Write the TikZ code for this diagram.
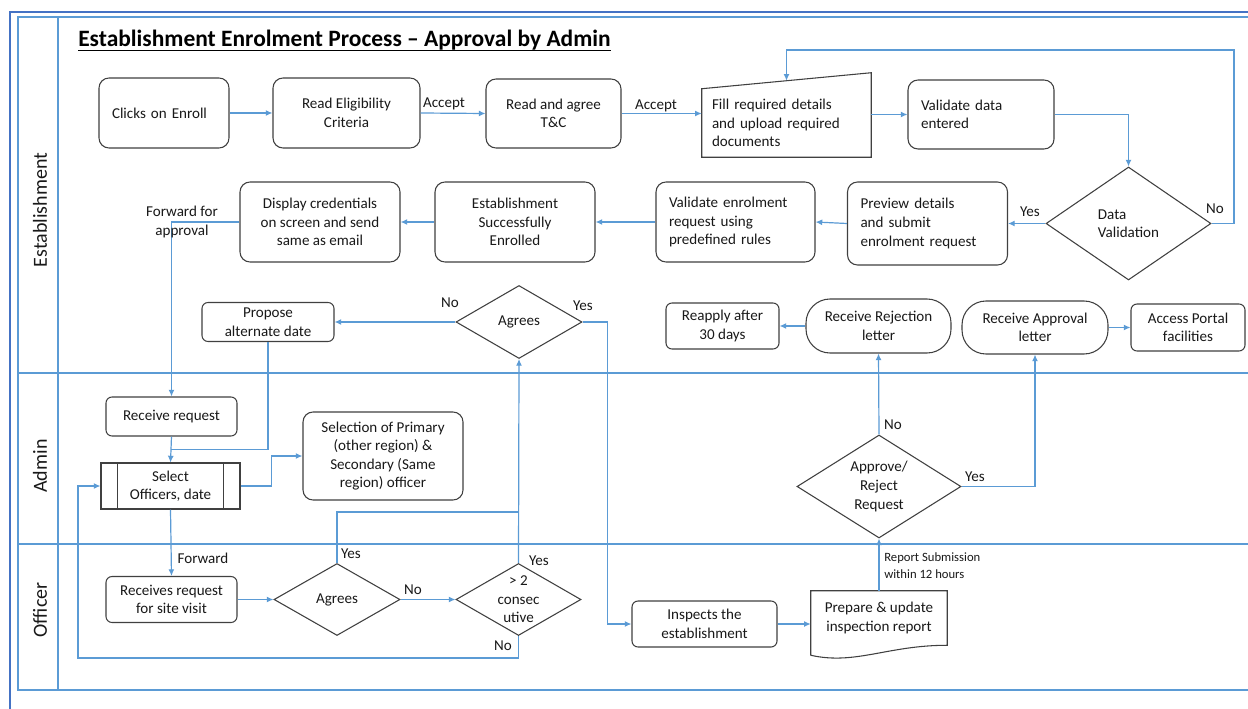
\documentclass[tikz,border=0pt]{standalone}
\usepackage{fontspec}
\setmainfont{Carlito}
\usetikzlibrary{shapes.geometric,arrows.meta,calc}
\definecolor{flow}{RGB}{91,155,213}
\definecolor{framec}{RGB}{68,114,196}
\definecolor{edge}{RGB}{64,64,64}
\definecolor{ink}{RGB}{25,25,25}
\tikzset{
  txt/.style={font=\fontsize{11.3}{13.9}\selectfont, text=ink},
  sz/.style 2 args={minimum width={#1*0.75pt}, minimum height={#2*0.75pt}},
  stepc/.style 2 args={txt, draw=edge, line width=0.8pt, rounded corners=7.5pt, align=center, inner sep=0pt, sz={#1}{#2}},
  stepl/.style 2 args={txt, draw=edge, line width=0.8pt, rounded corners=7.5pt, align=left, inner ysep=0pt, inner xsep=9.75pt, text width=#1, minimum height=#2},
  small/.style={rounded corners=4.5pt},
  pill/.style={rounded corners=18pt},
  predef/.style 2 args={txt, draw=edge, line width=0.8pt, align=center, inner sep=0pt, sz={#1}{#2}},
  dec/.style 2 args={diamond, draw=edge, line width=0.8pt, inner sep=0pt, sz={#1}{#2}},
  conn/.style={draw=flow, line width=0.9pt, -{Latex[length=5pt,width=4.5pt]}},
  link/.style={draw=flow, line width=0.9pt},
  lbl/.style={txt, inner sep=0pt},
  lane/.style={draw=flow, line width=1pt},
  lanetitle/.style={font=\fontsize{15}{18}\selectfont, text=ink, rotate=90, inner sep=0pt},
}
\begin{document}
\begin{tikzpicture}[x=0.75pt,y=-0.75pt]
\useasboundingbox (0,0) rectangle (1248,709);
\fill[white] (0,0) rectangle (1248,709);

% swimlane frame
\draw[framec, line width=2pt] (10,709) -- (10,12) -- (1248,12);
\draw[lane] (1248,17) -- (18,17) -- (18,690) -- (1248,690);
\draw[lane] (58,17) -- (58,690);
\draw[lane] (18,373) -- (1248,373);
\draw[lane] (18,544) -- (1248,544);

% lane titles
\node[lanetitle] (lnest) at (40,210) {Establishment};
\node[lanetitle] (lnadm) at (40,466) {Admin};
\node[lanetitle] (lnoff) at (40,610) {Officer};

% heading
\node[anchor=base west, inner sep=0pt, text=black, font=\bfseries\fontsize{17.6}{20}\selectfont] (ttl) at (78,47) {Establishment Enrolment Process – Approval by Admin};
\draw[black, line width=1.4pt] ($(ttl.base west)+(0,3.5)$) -- ($(ttl.base east)+(0,3.5)$);

% ---- Establishment lane ----
\node[stepl={78pt}{52.5pt}] (clk) at (164,113) {Clicks on Enroll};
\node[stepc={147}{70}] (elig) at (346.5,113) {Read Eligibility\\Criteria};
\node[stepc={135}{69}] (tc) at (553.5,113.5) {Read and agree\\T\&C};
\node[txt, align=left, text width=111.75pt, inner xsep=7.5pt, inner ysep=0pt, minimum height=51pt] (upl) at (786.5,123) {Fill required details\\and upload required\\documents};
\draw[draw=edge, line width=0.8pt] (upl.south west) -- (upl.north west) -- ($(upl.north east)+(0,-16)$) -- (upl.south east) -- cycle;
\node[stepl={90pt}{51.75pt}] (vd) at (981,114.5) {Validate data\\entered};
\node[dec={165}{113}] (dv) at (1128.5,223.5) {};
\node[lbl, align=left] (dvt) at (dv) {Data\\Validation};
\node[stepl={100.5pt}{62.25pt}] (prev) at (927.5,223.5) {Preview details\\and submit\\enrolment request};
\node[stepl={99.75pt}{60pt}] (venr) at (735.5,222) {Validate enrolment\\request using\\predefined rules};
\node[stepc={160}{80}] (succ) at (515,222) {Establishment\\Successfully\\Enrolled};
\node[stepc={160}{80}] (disp) at (320,222) {Display credentials\\on screen and send\\same as email};
\node[stepc={132}{39}, small] (prop) at (268,322) {Propose\\alternate date};
\node[dec={126}{73}] (ag1) at (519,322) {};
\node[lbl] (ag1t) at (ag1) {Agrees};
\node[stepc={113}{46}, small] (reap) at (722.5,326) {Reapply after\\30 days};
\node[stepc={145}{54}, pill] (rej) at (878.5,326) {Receive Rejection\\letter};
\node[stepc={146}{53}, pill] (appr) at (1035,327.5) {Receive Approval\\letter};
\node[stepc={114}{47}, small] (acc) at (1188,327.5) {Access Portal\\facilities};

% ---- Admin lane ----
\node[stepc={131}{39}, small] (rcv) at (171.5,416.5) {Receive request};
\node[predef={139}{46}] (sel) at (170.5,486) {Select\\Officers, date};
\draw[draw=edge, line width=0.8pt] ($(sel.north west)+(17,0)$) -- ($(sel.south west)+(17,0)$)
      ($(sel.north east)+(-17,0)$) -- ($(sel.south east)+(-17,0)$);
\node[stepc={160}{88}] (selx) at (383,456) {Selection of Primary\\(other region) \&\\Secondary (Same\\region) officer};
\node[dec={164}{103}] (apr) at (879,486.5) {};
\node[lbl, align=center] (aprt) at (apr) {Approve/\\Reject\\Request};

% ---- Officer lane ----
\node[stepc={131}{46}, small] (rsv) at (171.5,599.5) {Receives request\\for site visit};
\node[dec={126}{72}] (ag2) at (337,599.5) {};
\node[lbl] (ag2t) at (ag2) {Agrees};
\node[dec={125}{72}] (gt) at (518.5,599.5) {};
\node[lbl, align=center] (gtt) at (gt) {> 2\\consec\\utive};
\node[stepc={145}{46}, small] (insp) at (704.5,624) {Inspects the\\establishment};
\node[txt, align=center, inner sep=0pt, sz={136}{54}] (prep) at (879,618) {Prepare \& update\\inspection report};
\draw[draw=edge, line width=0.8pt] ($(prep.south west)+(0,10)$) -- (prep.north west) -- (prep.north east) -- (prep.south east)
      .. controls +(-60,0) and +(45,10) .. ($(prep.south west)+(0,10)$);

% helper points for merged lines
\coordinate (loop) at (1234,50);
\coordinate (uplin) at ($(upl.north)+(0,-8)$);
\coordinate (mrg) at ($(rcv.south)!0.5!(sel.north)$);
\coordinate (ymrg) at (518.5,512);
\coordinate (back) at (78,658);

% ---- connectors ----
\draw[conn] (clk.east) -- (elig.west);
\draw[conn] (elig.east) -- (tc.west);
\draw[conn] (tc.east) -- (tc.east -| upl.west);
\draw[conn] (vd.west -| upl.east) -- (vd.west);
\draw[conn] (vd.east) -| (dv.north);
\draw[conn] (dv.east) -| (loop) -| (uplin);
\draw[conn] (dv.west) -- (prev.east);
\draw[conn] (prev.west) -- (venr.east);
\draw[conn] (venr.west) -- (succ.east);
\draw[conn] (succ.west) -- (disp.east);
\draw[conn] (disp.west) -| (rcv.north);
\draw[conn] (rcv.south) -- (sel.north);
\draw[link] (prop.south) |- (mrg);
\draw[conn] (sel.east) -- ++(31,0) |- (selx.west);
\draw[conn] (sel.south) -- (rsv.north);
\draw[conn] (rsv.east) -- (ag2.west);
\draw[conn] (ag2.east) -- (gt.west);
\draw[link] (ag2.north) |- (ymrg);
\draw[conn] (gt.north) -- (ag1.south);
\draw[conn] (gt.south) |- (back) |- (sel.west);
\draw[conn] (ag1.west) -- (prop.east);
\draw[conn] (ag1.east) -- ++(25,0) |- (insp.west);
\draw[conn] (insp.east) -- (insp.east -| prep.west);
\draw[conn] (prep.north) -- (apr.south);
\draw[conn] (apr.north) -- (rej.south);
\draw[conn] (apr.east) -| (appr.south);
\draw[conn] (rej.west) -- (reap.east);
\draw[conn] (appr.east) -- (acc.west);

% ---- connector labels ----
\node[lbl] (l1) at (444,104) {Accept};
\node[lbl] (l2) at (656,106) {Accept};
\node[lbl] (l3) at (1215,209) {No};
\node[lbl] (l4) at (1030,212) {Yes};
\node[lbl, align=center] (l5) at (182,222) {Forward for\\approval};
\node[lbl] (l6) at (450,303) {No};
\node[lbl] (l7) at (583,306) {Yes};
\node[lbl] (l8) at (203,558) {Forward};
\node[lbl] (l9) at (351,554) {Yes};
\node[lbl] (l10) at (413,590) {No};
\node[lbl] (l11) at (539,561) {Yes};
\node[lbl] (l12) at (503,646) {No};
\node[lbl] (l13) at (893,425) {No};
\node[lbl] (l14) at (975,477) {Yes};
\node[lbl, anchor=west, align=left, font=\fontsize{9.5}{12.75}\selectfont] (l15) at (884,565.5) {Report Submission\\within 12 hours};
\end{tikzpicture}
\end{document}
